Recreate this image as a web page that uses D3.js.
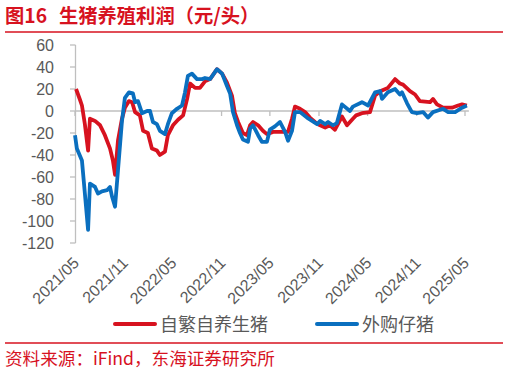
<!DOCTYPE html>
<html>
<head>
<meta charset="utf-8">
<script src="https://cdn.jsdelivr.net/npm/d3@7"></script>
<style>
  body { margin: 0; background: #fff; }
  svg { display: block; }
</style>
</head>
<body>
<div id="chart"></div>
<script>
// 自繁自养生猪 (red)
var redDates = ["2021-05-05","2021-05-20","2021-05-27","2021-06-07","2021-06-19","2021-06-26","2021-07-15","2021-08-03","2021-08-21","2021-09-09","2021-09-20","2021-09-28","2021-10-09","2021-10-24","2021-11-04","2021-11-19","2021-12-01","2021-12-12","2021-12-30",
  "2022-01-11","2022-01-29","2022-02-13","2022-03-04","2022-03-15","2022-04-03","2022-04-14","2022-05-03","2022-05-22","2022-06-10","2022-06-25","2022-07-06","2022-07-25","2022-08-12","2022-08-31","2022-09-19","2022-10-15","2022-11-03","2022-11-21","2022-12-10","2022-12-21",
  "2023-01-02","2023-01-20","2023-02-04","2023-02-16","2023-02-27","2023-03-18","2023-04-05","2023-04-20","2023-05-13","2023-06-08","2023-07-08","2023-07-23","2023-08-03","2023-08-22","2023-09-10","2023-09-28","2023-10-17","2023-11-05","2023-11-24","2023-12-12","2023-12-31",
  "2024-01-11","2024-01-26","2024-02-14","2024-03-07","2024-03-19","2024-04-10","2024-05-10","2024-05-29","2024-06-17","2024-07-16","2024-08-12","2024-08-30","2024-09-11","2024-10-07","2024-10-26","2024-11-13","2024-12-21",
  "2025-01-01","2025-01-16","2025-02-08","2025-03-13","2025-04-05","2025-04-20","2025-05-08"];
var redValues = [20,10,5,-12,-36,-7,-9,-13,-22,-34,-45,-58,-27,-7,3,9,8,-1,-4,
  -18,-20,-34,-36,-40,-37,-22,-13,-8,-4,11,25,21,21,27,29,38,34,26,14,-2,
  -10,-20,-22,-13,-10,-13,-18,-21,-19,-19,-19,-7,4,2,-1,-6,-10,-13,-15,-13,-17,
  -12,-5,-13,-7,-4,-2,-1,14,18,21,29,25,24,18,15,9,8,
  11,6,3,3,5,6,5];

// 外购仔猪 (blue)
var blueDates = ["2021-05-01","2021-05-08","2021-05-27","2021-06-07","2021-06-19","2021-06-26","2021-07-15","2021-07-26","2021-08-10","2021-08-29","2021-09-09","2021-09-17","2021-09-28","2021-10-09","2021-10-24","2021-11-04","2021-11-19","2021-12-04","2021-12-12","2021-12-23",
  "2022-01-07","2022-01-26","2022-02-06","2022-02-17","2022-03-04","2022-03-15","2022-04-03","2022-04-14","2022-04-29","2022-05-18","2022-06-06","2022-06-17","2022-06-28","2022-07-13","2022-08-01","2022-08-20","2022-08-31","2022-09-19","2022-10-15","2022-11-03","2022-11-21","2022-12-03","2022-12-14","2022-12-29",
  "2023-01-09","2023-01-20","2023-02-08","2023-02-16","2023-02-27","2023-03-18","2023-04-01","2023-04-20","2023-05-01","2023-05-20","2023-06-08","2023-06-27","2023-07-08","2023-07-23","2023-08-03","2023-08-22","2023-09-17","2023-10-06","2023-10-25","2023-11-05","2023-11-24","2023-12-05","2023-12-23",
  "2024-01-07","2024-01-26","2024-02-25","2024-03-07","2024-04-10","2024-05-03","2024-05-29","2024-06-17","2024-06-24","2024-07-16","2024-08-12","2024-08-30","2024-09-07","2024-09-26","2024-10-14","2024-11-02","2024-11-25","2024-12-13",
  "2025-01-01","2025-02-08","2025-02-27","2025-03-25","2025-04-20","2025-05-08"];
var blueValues = [-22,-34,-45,-75,-108,-66,-69,-75,-73,-72,-69,-78,-87,-54,-9,12,17,16,8,9,
  -2,0,0,-10,-12,-18,-21,-12,-2,2,5,17,32,34,29,29,30,29,38,34,23,16,-1,-13,
  -20,-26,-28,-16,-13,-22,-28,-28,-17,-14,-10,-19,-27,-18,-1,-1,-6,-9,-12,-9,-12,-10,-13,
  -11,6,0,4,8,5,17,18,11,17,20,15,17,7,-1,-2,-1,-6,
  -1,2,-1,-1,3,5];

var tickLabels = ["2021/05","2021/11","2022/05","2022/11","2023/05","2023/11","2024/05","2024/11","2025/05"];
var yTicks = [60,40,20,0,-20,-40,-60,-80,-100,-120];
var seriesNames = ["自繁自养生猪","外购仔猪"];

var width = 509, height = 375;
var red = "#D7121F", blue = "#0A6FBF", grey = "#595959", axisColor = "#BFBFBF";
var cjk = "'Noto Sans CJK SC', sans-serif";
var latin = "'Liberation Sans', Arial, sans-serif";

var parse = d3.timeParse("%Y-%m-%d");
var parseTick = d3.timeParse("%Y/%m");

var svg = d3.select("#chart").append("svg")
    .attr("width", width)
    .attr("height", height);

// title + top rule
svg.append("text")
    .attr("x", 5).attr("y", 23)
    .style("font-family", cjk).style("font-weight", "bold")
    .style("font-size", "19.3px").style("fill", red)
    .text("图16");
svg.append("text")
    .attr("x", 59).attr("y", 23)
    .style("font-family", cjk).style("font-weight", "bold")
    .style("font-size", "19.3px").style("fill", red)
    .text("生猪养殖利润（元/头）");
svg.append("line")
    .attr("x1", 5).attr("x2", 503).attr("y1", 32).attr("y2", 32)
    .style("stroke", red).style("stroke-width", 1.5);

var x = d3.scaleTime()
    .domain([parseTick("2021/05"), parseTick("2025/05")])
    .range([75, 465]);
var y = d3.scaleLinear()
    .domain([-120, 60])
    .range([243, 45]);

// y axis
svg.append("line")
    .attr("x1", 75.5).attr("x2", 75.5)
    .attr("y1", y(60)).attr("y2", y(-120))
    .style("stroke", axisColor).style("stroke-width", 1.3);
svg.selectAll(".ytick")
    .data(yTicks).enter().append("line")
    .attr("x1", 70).attr("x2", 75.5)
    .attr("y1", d => y(d)).attr("y2", d => y(d))
    .style("stroke", axisColor).style("stroke-width", 1.3);
svg.selectAll(".ylab")
    .data(yTicks).enter().append("text")
    .attr("x", 54).attr("y", d => y(d))
    .attr("dy", "0.35em")
    .attr("text-anchor", "end")
    .style("font-family", latin).style("font-size", "16px").style("fill", grey)
    .text(d => d);

// x axis on zero line
var lastDate = parse(redDates[redDates.length - 1]);
svg.append("line")
    .attr("x1", 75).attr("x2", x(lastDate) + 2)
    .attr("y1", y(0)).attr("y2", y(0))
    .style("stroke", axisColor).style("stroke-width", 1.5);
svg.selectAll(".xtick")
    .data(tickLabels).enter().append("line")
    .attr("x1", d => x(parseTick(d))).attr("x2", d => x(parseTick(d)))
    .attr("y1", y(0)).attr("y2", y(0) + 5)
    .style("stroke", axisColor).style("stroke-width", 1.3);
svg.selectAll(".xlab")
    .data(tickLabels).enter().append("text")
    .attr("transform", d => "translate(" + (x(parseTick(d)) + 5) + ",264) rotate(-45)")
    .attr("text-anchor", "end")
    .style("font-family", latin).style("font-size", "16px").style("fill", grey)
    .text(d => d);

// lines
var line = d3.line()
    .x(d => x(d[0]))
    .y(d => y(d[1]));

var redData = redDates.map((d, i) => [parse(d), redValues[i]]);
var blueData = blueDates.map((d, i) => [parse(d), blueValues[i]]);

svg.append("path")
    .datum(redData)
    .attr("d", line)
    .style("fill", "none").style("stroke", red)
    .style("stroke-width", 3.8).style("stroke-linejoin", "round");
svg.append("path")
    .datum(blueData)
    .attr("d", line)
    .style("fill", "none").style("stroke", blue)
    .style("stroke-width", 3.8).style("stroke-linejoin", "round");

// legend
var legendX = [115, 317];
var legendColors = [red, blue];
seriesNames.forEach(function (name, i) {
    svg.append("line")
        .attr("x1", legendX[i]).attr("x2", legendX[i] + 40)
        .attr("y1", 324).attr("y2", 324)
        .style("stroke", legendColors[i]).style("stroke-width", 4)
        .style("stroke-linecap", "round");
    svg.append("text")
        .attr("x", legendX[i] + 45).attr("y", 331)
        .style("font-family", cjk).style("font-size", "18px").style("fill", grey)
        .text(name);
});

// bottom rule + source
svg.append("line")
    .attr("x1", 5).attr("x2", 503).attr("y1", 343).attr("y2", 343)
    .style("stroke", red).style("stroke-width", 1.3);
svg.append("text")
    .attr("x", 5).attr("y", 365)
    .style("font-family", cjk).style("font-size", "17.6px").style("fill", red)
    .text("资料来源：iFind，东海证券研究所");
</script>
</body>
</html>
